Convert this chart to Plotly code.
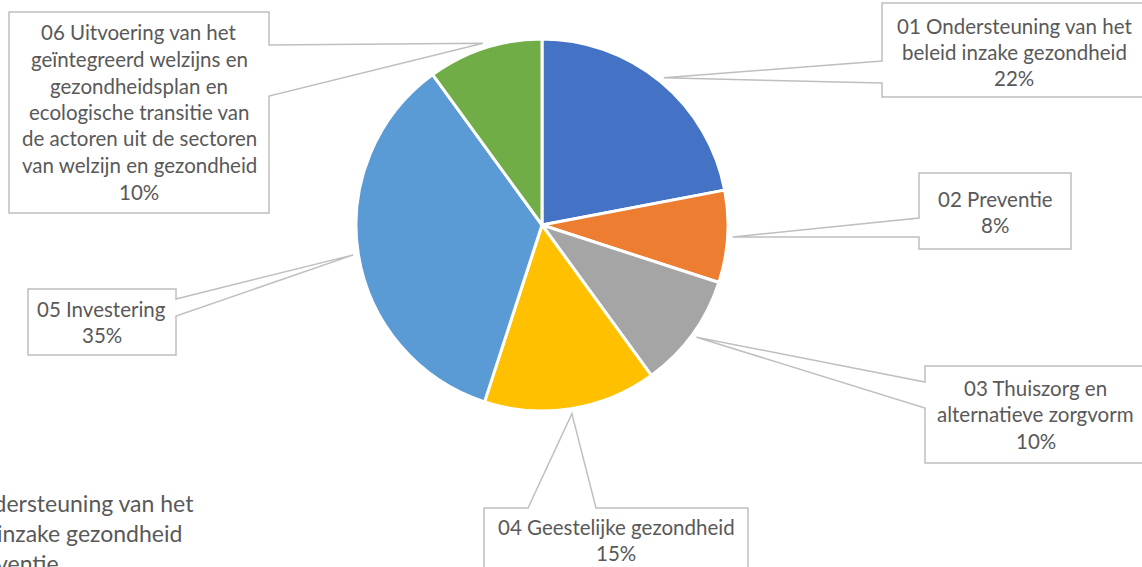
import math
import plotly.graph_objects as go

W, H = 1142, 567

# ---- data ----
categories = [
    "01 Ondersteuning van het beleid inzake gezondheid",
    "02 Preventie",
    "03 Thuiszorg en alternatieve zorgvorm",
    "04 Geestelijke gezondheid",
    "05 Investering",
    "06 Uitvoering van het geïntegreerd welzijns en gezondheidsplan en ecologische transitie van de actoren uit de sectoren van welzijn en gezondheid",
]
values = [22, 8, 10, 15, 35, 10]
colors = ["#4472C4", "#ED7D31", "#A5A5A5", "#FFC000", "#5B9BD5", "#70AD47"]
label_lines = [
    ["01 Ondersteuning van het", "beleid inzake gezondheid"],
    ["02 Preventie"],
    ["03 Thuiszorg en", "alternatieve zorgvorm"],
    ["04 Geestelijke gezondheid"],
    ["05 Investering"],
    ["06 Uitvoering van het", "geïntegreerd welzijns en", "gezondheidsplan en",
     "ecologische transitie van", "de actoren uit de sectoren", "van welzijn en gezondheid"],
]
legend_lines = ["01 Ondersteuning van het", "beleid inzake gezondheid", "02 Preventie"]

# ---- layout (pixels) ----
CX, CY, R = 542, 225, 186
# box: x0, y0, x1, y1, pointer side, gap start, gap end, text centre y
boxes = [
    (882, 3, 1146, 97, "left", 61, 83, 52),
    (919, 173, 1071, 249, "left", 218, 237, 212),
    (925, 366, 1146, 463, "left", 382, 408, 414),
    (484, 508, 748, 590, "top", 528, 596, 540),
    (28, 289, 176, 355, "right", 299, 316, 322),
    (9, 12, 269, 213, "right", 45, 96, 112),
]
LINE_H = 26.5
TXT = "#595959"
FONT = "Lato"
FS = 20.5


def px(x):
    return x / W


def py(y):
    return 1 - y / H


fig = go.Figure()
fig.add_trace(go.Pie(
    labels=categories, values=values, sort=False, direction="clockwise", rotation=0,
    marker=dict(colors=colors, line=dict(color="white", width=3)),
    textinfo="none", hoverinfo="label+percent", showlegend=False,
    domain=dict(x=[px(CX - R), px(CX + R)], y=[py(CY + R), py(CY - R)]),
))

total = sum(values)
shapes, annotations = [], []
cum = 0
for i, v in enumerate(values):
    ang = math.radians(360 * (cum + v / 2) / total)
    cum += v
    rt = R + 5
    tx, ty = CX + rt * math.sin(ang), CY - rt * math.cos(ang)
    x0, y0, x1, y1, side, g0, g1, tcy = boxes[i]
    if side == "left":
        pts = [(x0, y0), (x1, y0), (x1, y1), (x0, y1), (x0, g1), (tx, ty), (x0, g0)]
    elif side == "right":
        pts = [(x0, y0), (x1, y0), (x1, g0), (tx, ty), (x1, g1), (x1, y1), (x0, y1)]
    else:
        pts = [(x0, y0), (g0, y0), (tx, ty), (g1, y0), (x1, y0), (x1, y1), (x0, y1)]
    path = "M " + " L ".join(f"{px(a):.5f},{py(b):.5f}" for a, b in pts) + " Z"
    shapes.append(dict(type="path", xref="paper", yref="paper", path=path,
                       fillcolor="white", line=dict(color="#BFBFBF", width=1.5), layer="above"))
    lines = label_lines[i] + [f"{round(100 * v / total)}%"]
    n = len(lines)
    cxb = (x0 + x1) / 2
    for k, t in enumerate(lines):
        yy = tcy + (k - (n - 1) / 2) * LINE_H
        annotations.append(dict(x=px(cxb), y=py(yy), xref="paper", yref="paper", text=t,
                                showarrow=False, xanchor="center", yanchor="middle",
                                font=dict(family=FONT, size=FS, color=TXT)))

# legend (mostly off-canvas on the left, as in the source image)
leg_y = [503, 533, 563]
for t, yy in zip(legend_lines, leg_y):
    annotations.append(dict(x=px(-72), y=py(yy), xref="paper", yref="paper", text=t,
                            showarrow=False, xanchor="left", yanchor="middle",
                            font=dict(family=FONT, size=23, color=TXT)))

fig.update_layout(
    width=W, height=H, margin=dict(l=0, r=0, t=0, b=0),
    paper_bgcolor="white", plot_bgcolor="white",
    shapes=shapes, annotations=annotations,
)
fig.write_html("out.html")
